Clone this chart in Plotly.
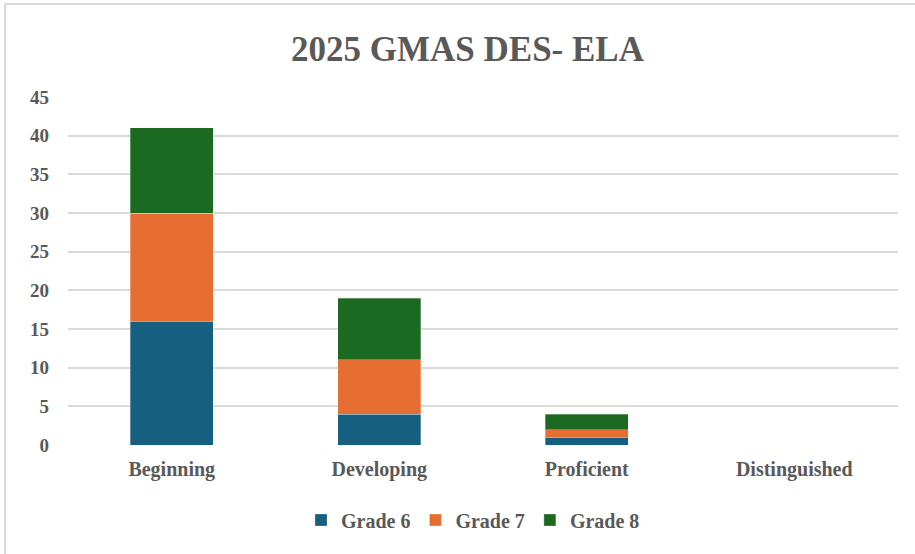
import plotly.graph_objects as go

categories = ["Beginning", "Developing", "Proficient", "Distinguished"]
grade6 = [16, 4, 1, 0]
grade7 = [14, 7, 1, 0]
grade8 = [11, 8, 2, 0]
series_names = ["Grade 6", "Grade 7", "Grade 8"]
colors = ["#175f80", "#e66e33", "#1c6922"]
y_ticks = [0, 5, 10, 15, 20, 25, 30, 35, 40, 45]

W, H = 915, 554
ml, mr, mt, mb = 68, 17, 97, 109
pw, ph = W - ml - mr, H - mt - mb

fig = go.Figure()
for name, vals, c in zip(series_names, [grade6, grade7, grade8], colors):
    fig.add_trace(go.Bar(
        x=categories, y=vals, name=name,
        marker=dict(color=c, line=dict(color="rgba(255,255,255,0.5)", width=0.6)),
    ))

font_family = "Liberation Serif, Times New Roman, serif"
gray = "#595959"

def px_x(p):
    return (p - ml) / pw

def px_y(p):
    return (H - mb - p) / ph

fig.update_layout(
    width=W, height=H,
    barmode="stack",
    bargap=0.6,
    plot_bgcolor="white",
    paper_bgcolor="white",
    margin=dict(l=ml, r=mr, t=mt, b=mb, pad=0),
    title=dict(
        text="<b>2025 GMAS DES- ELA</b>",
        x=467.5 / W, xanchor="center", xref="container",
        y=1 - 49 / H, yanchor="middle", yref="container",
        font=dict(family=font_family, size=35, color=gray),
    ),
    font=dict(family=font_family, color=gray),
    xaxis=dict(
        showgrid=False, showline=False, zeroline=False, ticks="",
        ticklabelstandoff=10,
        tickfont=dict(family=font_family, size=20, color=gray, weight="bold"),
    ),
    yaxis=dict(
        range=[0, 45], tickvals=y_ticks,
        showgrid=True, gridcolor="#d9d9d9", gridwidth=2,
        zeroline=False, showline=False, ticks="",
        ticklabelstandoff=18,
        tickfont=dict(family=font_family, size=19, color=gray, weight="bold"),
    ),
    legend=dict(
        orientation="h", x=px_x(473), xanchor="center",
        y=px_y(520), yanchor="middle",
        font=dict(family=font_family, size=20, color=gray, weight="bold"),
        itemwidth=30, traceorder="normal",
    ),
    showlegend=True,
    shapes=[
        dict(type="line", xref="paper", yref="paper",
             x0=px_x(5), x1=px_x(5), y0=px_y(4), y1=px_y(560),
             line=dict(color="#d9d9d9", width=2)),
        dict(type="line", xref="paper", yref="paper",
             x0=px_x(5), x1=px_x(920), y0=px_y(4), y1=px_y(4),
             line=dict(color="#d9d9d9", width=2)),
    ],
)

fig.write_html("out.html",
               config={"displayModeBar": False},
               post_script="document.body.style.margin='0';document.body.style.overflow='hidden';")
